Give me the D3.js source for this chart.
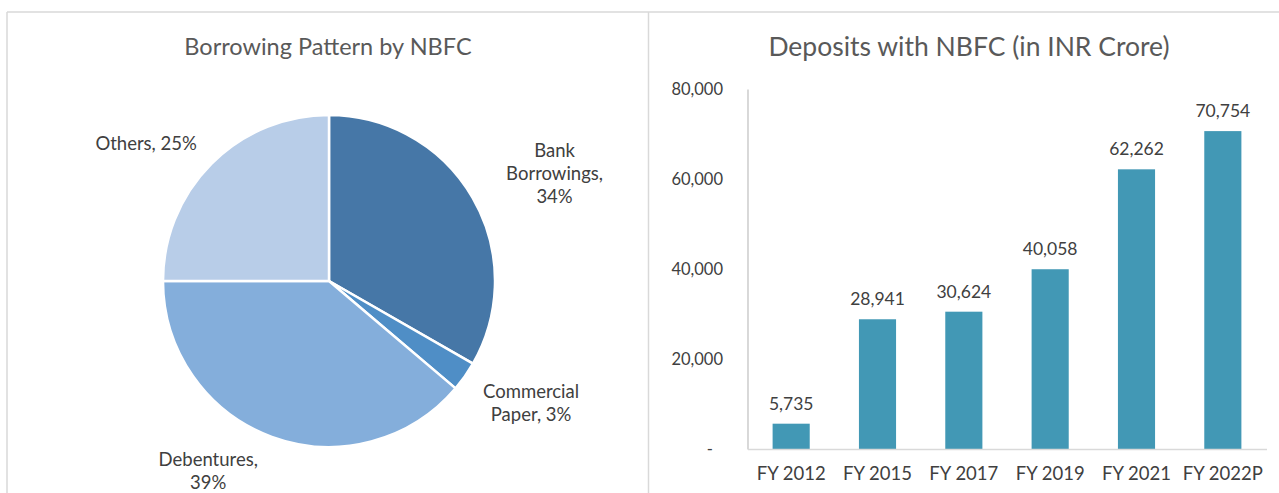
<!DOCTYPE html>
<html>
<head>
<meta charset="utf-8">
<script src="https://cdn.jsdelivr.net/npm/d3@7"></script>
<style>
  html, body { margin: 0; padding: 0; background: #ffffff; }
  svg { display: block; font-family: "Lato", "Open Sans", sans-serif; }
</style>
</head>
<body>
<svg id="chart" width="1279" height="493"></svg>
<script>
// ---- Data ----
const pieCategories = ["Bank Borrowings", "Commercial Paper", "Debentures", "Others"];
const pieValues = [33.3, 2.9, 38.8, 25.0];
const pieLabels = [["Bank", "Borrowings,", "34%"], ["Commercial", "Paper, 3%"], ["Debentures,", "39%"], ["Others, 25%"]];

const barCategories = ["FY 2012", "FY 2015", "FY 2017", "FY 2019", "FY 2021", "FY 2022P"];
const barValues = [5735, 28941, 30624, 40058, 62262, 70754];
const yTicks = [0, 20000, 40000, 60000, 80000];

const pieTitle = "Borrowing Pattern by NBFC";
const barTitle = "Deposits with NBFC (in INR Crore)";

// ---- Styles ----
const pieColors = ["#4677a7", "#4f8ec6", "#84aedb", "#b8cde8"];
const barColor = "#4298b5";
const textColor = "#404040";
const titleColor = "#595959";
const borderColor = "#d9d9d9";

const svg = d3.select("#chart");

// panel borders
svg.append("line").attr("x1", 7).attr("x2", 1279).attr("y1", 12).attr("y2", 12)
  .attr("stroke", borderColor).attr("stroke-width", 1.5);
svg.append("line").attr("x1", 7).attr("x2", 7).attr("y1", 12).attr("y2", 493)
  .attr("stroke", borderColor).attr("stroke-width", 1.5);
svg.append("line").attr("x1", 648.5).attr("x2", 648.5).attr("y1", 12).attr("y2", 493)
  .attr("stroke", borderColor).attr("stroke-width", 1.5);

// ---- Pie chart ----
const cx = 329, cy = 281, r = 166;
svg.append("text").attr("x", 328).attr("y", 55).attr("text-anchor", "middle")
  .attr("font-size", 23.5).attr("fill", titleColor).text(pieTitle);

const pie = d3.pie().sort(null).value(d => d)(pieValues);
const arc = d3.arc().innerRadius(0).outerRadius(r);
const gPie = svg.append("g").attr("transform", `translate(${cx},${cy})`);
gPie.selectAll("path").data(pie).join("path")
  .attr("d", arc)
  .attr("fill", (d, i) => pieColors[i])
  .attr("stroke", "#ffffff").attr("stroke-width", 2.5).attr("stroke-linejoin", "round");

// label placement: around the pie at a label radius, with small nudges
const labelRadius = [250, 236, 225, 229];
const labelAngleShift = [4.5, -4, 12.3, -8]; // degrees
const lineH = 23;
pie.forEach((d, i) => {
  const mid = (d.startAngle + d.endAngle) / 2 + labelAngleShift[i] * Math.PI / 180;
  const lx = Math.sin(mid) * labelRadius[i];
  const ly = -Math.cos(mid) * labelRadius[i];
  const lines = pieLabels[i];
  const t = gPie.append("text").attr("text-anchor", "middle")
    .attr("font-size", 18.5).attr("fill", textColor);
  lines.forEach((ln, j) => {
    t.append("tspan").attr("x", lx)
      .attr("y", ly + (j - (lines.length - 1) / 2) * lineH)
      .attr("dy", "0.35em").text(ln);
  });
});

// ---- Bar chart ----
const plotLeft = 748, plotRight = 1266, plotTop = 89.5, plotBottom = 449.5;
svg.append("text").attr("x", 969).attr("y", 56).attr("text-anchor", "middle")
  .attr("font-size", 26.5).attr("fill", titleColor).text(barTitle);

const x = d3.scaleBand().domain(barCategories).range([plotLeft, plotRight]).paddingInner(0.57).paddingOuter(0.285);
const y = d3.scaleLinear().domain([0, 80000]).range([plotBottom, plotTop]);

// y axis labels
const yAxis = d3.axisLeft(y).tickValues(yTicks).tickSize(0).tickPadding(25)
  .tickFormat(d => d === 0 ? "-" : d3.format(",")(d));
const gy = svg.append("g").attr("transform", `translate(${plotLeft},0)`).call(yAxis);
gy.select(".domain").remove();
gy.selectAll("text").attr("font-size", 16.5).attr("fill", textColor)
  .attr("font-family", "Lato, 'Open Sans', sans-serif")
  .attr("dx", d => d === 0 ? -10 : 0);

// vertical axis line
svg.append("line").attr("x1", plotLeft).attr("x2", plotLeft).attr("y1", plotTop).attr("y2", plotBottom)
  .attr("stroke", "#bfbfbf").attr("stroke-width", 1.2);

// bars
svg.selectAll("rect.bar").data(barValues).join("rect").attr("class", "bar")
  .attr("x", (d, i) => x(barCategories[i]))
  .attr("width", x.bandwidth())
  .attr("y", d => y(d))
  .attr("height", d => plotBottom - y(d))
  .attr("fill", barColor);

// baseline
svg.append("line").attr("x1", plotLeft).attr("x2", 1267).attr("y1", plotBottom).attr("y2", plotBottom)
  .attr("stroke", borderColor).attr("stroke-width", 1.5);

// value labels
svg.selectAll("text.val").data(barValues).join("text").attr("class", "val")
  .attr("x", (d, i) => x(barCategories[i]) + x.bandwidth() / 2)
  .attr("y", d => y(d) - 14)
  .attr("text-anchor", "middle").attr("font-size", 17.5).attr("fill", textColor)
  .text(d => d3.format(",")(d));

// x axis labels
const xAxis = d3.axisBottom(x).tickSize(0).tickPadding(17);
const gx = svg.append("g").attr("transform", `translate(0,${plotBottom})`).call(xAxis);
gx.select(".domain").remove();
gx.selectAll("text").attr("font-size", 18.5).attr("fill", textColor)
  .attr("font-family", "Lato, 'Open Sans', sans-serif");
</script>
</body>
</html>
